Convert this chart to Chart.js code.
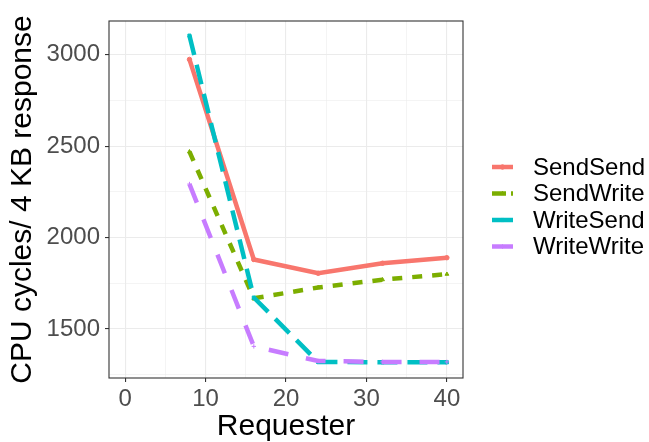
<!DOCTYPE html>
<html>
<head>
<meta charset="utf-8">
<script src="https://cdn.jsdelivr.net/npm/chart.js@4"></script>
<style>
  html, body { margin: 0; padding: 0; background: #fff; }
  #wrap { width: 649px; height: 442px; }
</style>
</head>
<body>
<div id="wrap"><canvas id="chart" width="649" height="442"></canvas></div>
<script>
const requesters = [8, 16, 24, 32, 40];
const sendSend = [2975, 1880, 1805, 1860, 1890];
const sendWrite = [2470, 1668, 1727, 1770, 1800];
const writeSend = [3105, 1672, 1320, 1318, 1318];
const writeWrite = [2293, 1405, 1325, 1320, 1320];

const xTicks = [0, 5, 10, 15, 20, 25, 30, 35, 40];
const yTicks = [1250, 1500, 1750, 2000, 2250, 2500, 2750, 3000];

const seriesNames = ['SendSend', 'SendWrite', 'WriteSend', 'WriteWrite'];
const seriesValues = [sendSend, sendWrite, writeSend, writeWrite];
const colors = ['#F8766D', '#7CAE00', '#00BFC4', '#C77CFF'];
const dashes = [[], [10, 10], [20, 10], [20, 18]];
const shapes = ['circle', 'triangle', 'rect', 'cross'];

const datasets = seriesNames.map((name, i) => ({
  label: name,
  data: requesters.map((x, j) => ({ x, y: seriesValues[i][j] })),
  borderColor: colors[i],
  backgroundColor: colors[i],
  borderWidth: 4.5,
  borderDash: dashes[i],
  borderCapStyle: 'butt',
  pointStyle: shapes[i],
  pointRadius: 2.2,
  pointBorderWidth: 1,
  pointBorderColor: colors[i],
  pointBackgroundColor: colors[i],
  tension: 0,
  order: 4 - i,
}));

const gridColor = '#EBEBEB';
const fontFamily = '"Liberation Sans", Arial, sans-serif';

// panel border + hand drawn legend (ggplot style)
const panelPlugin = {
  id: 'panel',
  afterDraw(chart) {
    const { ctx, chartArea: a } = chart;
    ctx.save();
    ctx.strokeStyle = '#333333';
    ctx.lineWidth = 1.1;
    ctx.strokeRect(a.left, a.top, a.right - a.left, a.bottom - a.top);

    const keyLeft = 492, keyRight = 513, textX = 533;
    const rowY = [167, 193.5, 220, 246.5];
    seriesNames.forEach((name, i) => {
      const y = rowY[i];
      ctx.strokeStyle = colors[i];
      ctx.fillStyle = colors[i];
      ctx.lineWidth = 4.5;
      ctx.lineCap = 'butt';
      ctx.setLineDash(i === 1 ? [14, 5] : []);
      ctx.beginPath();
      ctx.moveTo(keyLeft, y);
      ctx.lineTo(keyRight, y);
      ctx.stroke();
      ctx.setLineDash([]);
      ctx.lineWidth = 1;
      Chart.helpers.drawPoint(ctx, {
        pointStyle: shapes[i], radius: 2.2, borderWidth: 1, rotation: 0
      }, (keyLeft + keyRight) / 2, y);
      ctx.fillStyle = '#000';
      ctx.font = '24px ' + fontFamily;
      ctx.textBaseline = 'middle';
      ctx.textAlign = 'left';
      ctx.fillText(name, textX, y + 1);
    });
    ctx.restore();
  }
};

const ctx = document.getElementById('chart').getContext('2d');
const chart = new Chart(ctx, {
  type: 'line',
  data: { datasets },
  options: {
    responsive: false,
    animation: false,
    layout: { padding: { left: 0, top: 21, right: 186, bottom: 0 } },
    plugins: { legend: { display: false }, tooltip: { enabled: false } },
    scales: {
      x: {
        type: 'linear',
        min: -2,
        max: 42,
        afterBuildTicks(scale) { scale.ticks = xTicks.map(v => ({ value: v })); },
        afterFit(scale) { scale.height = 64; },
        border: { display: false },
        grid: {
          color: gridColor,
          lineWidth: c => (c.tick && c.tick.value % 10 === 0 ? 1.1 : 0.55),
          tickColor: c => (c.tick && c.tick.value % 10 === 0 ? '#333333' : 'rgba(0,0,0,0)'),
          tickWidth: 1.1,
          tickLength: 4,
        },
        ticks: {
          autoSkip: false,
          maxRotation: 0,
          padding: 3,
          color: '#4D4D4D',
          font: { family: fontFamily, size: 24 },
          callback: v => (v % 10 === 0 ? String(v) : ''),
        },
        title: {
          display: true,
          text: 'Requester',
          color: '#000',
          font: { family: fontFamily, size: 30, lineHeight: 1 },
          padding: { top: 0, bottom: 0 },
        },
      },
      y: {
        type: 'linear',
        min: 1232,
        max: 3185,
        afterBuildTicks(scale) { scale.ticks = yTicks.map(v => ({ value: v })); },
        afterFit(scale) { scale.width = 109; },
        border: { display: false },
        grid: {
          color: gridColor,
          lineWidth: c => (c.tick && c.tick.value % 500 === 0 ? 1.1 : 0.55),
          tickColor: c => (c.tick && c.tick.value % 500 === 0 ? '#333333' : 'rgba(0,0,0,0)'),
          tickWidth: 1.1,
          tickLength: 4,
        },
        ticks: {
          autoSkip: false,
          padding: 5,
          color: '#4D4D4D',
          font: { family: fontFamily, size: 24 },
          callback: v => (v % 500 === 0 ? String(v) : ''),
        },
        title: {
          display: true,
          text: 'CPU cycles/ 4 KB response',
          color: '#000',
          font: { family: fontFamily, size: 30, lineHeight: 1 },
          padding: { top: 8, bottom: 0 },
        },
      },
    },
  },
  plugins: [panelPlugin],
});
</script>
</body>
</html>
